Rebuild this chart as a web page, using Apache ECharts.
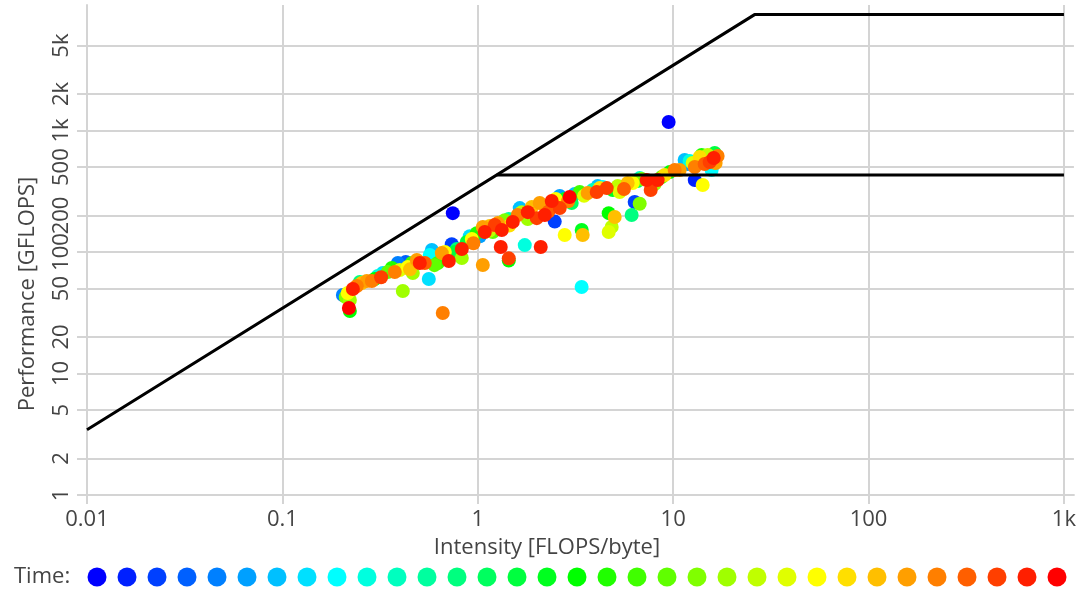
<!DOCTYPE html>
<html><head><meta charset="utf-8">
<script src="https://cdn.jsdelivr.net/npm/echarts@6/dist/echarts.min.js"></script>
<style>html,body{margin:0;padding:0;background:#fff}#c{width:1079px;height:591px}</style>
</head><body><div id="c"></div>
<script>
// ---- data ----
const xTicks = [0.01, 0.1, 1, 10, 100, 1000];
const yTicks = [1, 2, 5, 10, 20, 50, 100, 200, 500, 1000, 2000, 5000];
const timeColors = [
  '#0000ff','#0020ff','#0040ff','#0060ff','#0080ff','#00a0ff','#00c0ff','#00e0ff','#00ffff',
  '#00ffdf','#00ffbf','#00ff9f','#00ff7f','#00ff5f','#00ff3f','#00ff1f','#00ff00',
  '#20ff00','#40ff00','#60ff00','#80ff00','#a0ff00','#c0ff00','#e0ff00','#ffff00',
  '#ffdf00','#ffbf00','#ff9f00','#ff7f00','#ff5f00','#ff3f00','#ff1f00','#ff0000'
];
const roofIntensity = [0.01, 26.1, 1000];
const roofPerf = [3.45, 9000, 9000];
const roof2Intensity = [1.25, 1000];
const roof2Perf = [430, 430];

const intensity = [
  0.204,0.2295,0.2215,0.219,0.2215,0.216,0.2405,0.255,0.2705,0.287,0.297,0.3267,0.3464,0.376,0.399,
  0.4385,0.465,0.4875,0.505,0.4597,0.428,0.5356,0.568,0.6245,0.6545,0.711,0.678,0.736,0.781,0.8284,
  0.8284,0.878,0.932,0.988,1.061,1.086,1.152,1.024,1.222,1.266,1.327,1.374,1.441,1.51,1.602,
  1.679,1.803,1.89,2.004,2.075,2.202,2.281,2.391,2.506,2.627,2.786,2.955,3.135,3.324,3.653,
  3.875,4.062,4.207,4.359,4.569,4.903,5.20,5.516,5.851,6.205,6.58,6.90,7.32,8.33,8.735,
  9.05,9.60,10.18,10.8,11.45,12.14,12.9,13.66,13.99,14.49,15.38,15.74,16.12,16.89,16.31,
  15.02,11.87,0.39,0.582,0.91,1.64,2.627,4.11,6.741,0.308,0.249,0.211,0.363,0.763,1.194,
  1.803,3.025,5.325,8.04,12.58,16.5,
  0.6,0.95,1.45,2.3,3.5,5.6,0.32,0.45,1.15,2.9,
  9.48,0.745,3.40,0.662,0.4135,0.5615,1.061,1.441,1.441,1.311,1.74,2.10,2.477,2.786,3.444,
  3.404,4.678,5.02,4.678,4.846,6.132,6.741,6.353,7.672,14.16,12.9
];
const perfGflops = [
  44.3,49.6,40.3,34.6,32.7,46,52.5,55.6,57.7,57.7,60,67.2,68.5,68.5,71.1,
  75.3,67.2,85.9,81.2,81.2,82.7,81.2,94.5,81.2,98,84.3,100,116,106,106,
  89.2,121,128,143,161,146,164,135,167,173,152,183,187,177,202,
  213,213,235,190,253,202,239,263,273,230,273,284,300,312,306,
  324,312,336,343,336,324,349,343,370,370,384,399,391,391,414,
  430,455,473,473,572,561,501,605,629,530,550,473,594,617,653,
  629,530,81.2,104,135,230,289,349,406,63.5,56.6,42.6,73.8,100,146,
  187,253,312,363,540,540,
  78,118,165,215,290,330,62,72,150,262,
  1175,209,51.5,31.5,47.8,60,78.2,88.7,85,110,114,110,178,138,138,
  152,209,194,146,161,202,250,258,324,356,391
];
const timeStep = [
  4,31,21,32,16,24,28,26,27,28,16,7,19,28,23,
  24,21,27,31,18,3,29,8,18,27,31,24,2,12,31,
  21,14,24,17,27,31,26,5,30,27,31,20,11,31,28,
  22,31,26,30,27,31,3,31,24,30,15,32,6,18,27,
  10,30,25,8,30,15,22,16,26,24,13,20,31,31,19,
  25,16,28,27,6,9,28,25,17,29,30,8,31,28,14,
  22,5,4,6,7,6,5,6,10,9,12,20,17,14,19,
  21,13,23,21,23,27,
  19,28,25,29,23,29,30,26,22,28,
  0,0,8,28,21,7,27,30,16,31,9,31,2,24,26,
  15,16,26,23,22,12,20,2,30,24,1
];

// ---- chart ----
const FONT = '"Open Sans", "Noto Sans", sans-serif';
const TEXT_COLOR = '#444';
const GRID_COLOR = '#d4d4d4';
const fmt = v => v >= 1000 ? (v / 1000) + 'k' : String(v);

const scatterSeries = timeColors.map((c, t) => ({
  name: 'T' + (t + 1),
  type: 'scatter',
  symbol: 'circle',
  symbolSize: 14,
  itemStyle: { color: c, opacity: 1 },
  z: 2,
  silent: true,
  data: intensity.map((x, i) => [x, perfGflops[i], timeStep[i]]).filter(p => p[2] === t).map(p => [p[0], p[1]])
}));

const lineStyleRoof = { color: '#000', width: 3 };
const option = {
  animation: false,
  textStyle: { fontFamily: FONT },
  grid: { left: 87, right: 4, top: 5, bottom: 96 },
  xAxis: {
    type: 'log', logBase: 10, min: 0.01, max: 1125,
    axisLine: { show: true, lineStyle: { color: GRID_COLOR, width: 2 } },
    axisTick: { show: true, customValues: xTicks, length: 9, lineStyle: { color: GRID_COLOR, width: 2 } },
    axisLabel: { customValues: xTicks, formatter: fmt, fontSize: 22, color: TEXT_COLOR, margin: 14, fontFamily: FONT },
    splitLine: { show: true, lineStyle: { color: GRID_COLOR, width: 2 } },
    minorTick: { show: false }, minorSplitLine: { show: false }
  },
  yAxis: {
    type: 'log', logBase: 10, min: 1, max: 10800,
    axisLine: { show: true, lineStyle: { color: GRID_COLOR, width: 2 } },
    axisTick: { show: true, customValues: yTicks, length: 10, lineStyle: { color: GRID_COLOR, width: 2 } },
    axisLabel: { customValues: yTicks, formatter: fmt, fontSize: 22, color: TEXT_COLOR, margin: 14, rotate: 90, fontFamily: FONT },
    splitLine: { show: true, lineStyle: { color: GRID_COLOR, width: 2 } }
  },
  legend: {
    left: 87.5, top: 567.5, padding: 0,
    itemWidth: 19, itemHeight: 19, itemGap: 11,
    icon: 'circle', selectedMode: false,
    formatter: () => '',
    data: scatterSeries.map(s => s.name)
  },
  graphic: [
    { type: 'text', x: 28, y: 294, rotation: Math.PI / 2,
      style: { text: 'Performance [GFLOPS]', fill: TEXT_COLOR, font: '22px ' + FONT, align: 'center', verticalAlign: 'middle', textAlign: 'center', textVerticalAlign: 'middle' } },
    { type: 'text', x: 547, y: 548,
      style: { text: 'Intensity [FLOPS/byte]', fill: TEXT_COLOR, font: '22px ' + FONT, align: 'center', verticalAlign: 'middle', textAlign: 'center', textVerticalAlign: 'middle' } },
    { type: 'text', x: 14, y: 577,
      style: { text: 'Time:', fill: TEXT_COLOR, font: '22px ' + FONT, align: 'left', verticalAlign: 'middle', textAlign: 'left', textVerticalAlign: 'middle' } }
  ],
  series: [
    ...scatterSeries,
    { type: 'line', name: 'roof', data: roofIntensity.map((x, i) => [x, roofPerf[i]]), showSymbol: false, symbol: 'none', lineStyle: lineStyleRoof, z: 5, silent: true },
    { type: 'line', name: 'roof2', data: roof2Intensity.map((x, i) => [x, roof2Perf[i]]), showSymbol: false, symbol: 'none', lineStyle: lineStyleRoof, z: 5, silent: true }
  ]
};
const chart = echarts.init(document.getElementById('c'), null, { renderer: 'canvas' });
chart.setOption(option);
</script>
</body></html>
